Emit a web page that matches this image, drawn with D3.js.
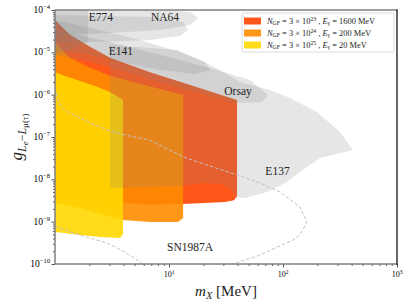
<!DOCTYPE html>
<html>
<head>
<meta charset="utf-8">
<script src="https://cdn.jsdelivr.net/npm/d3@7/dist/d3.min.js"></script>
<style>
  body { margin: 0; background: #fff; }
  svg { display: block; }
</style>
</head>
<body>
<div id="chart"></div>
<script>
// all regions are [mass in MeV, coupling g]
const xTicks = [10, 100, 1000];
const yTicks = [1e-10, 1e-9, 1e-8, 1e-7, 1e-6, 1e-5, 1e-4];

// sensitivity regions, three beam settings
const redRegion = [[1, 5.8e-5], [1.35, 2.6e-5], [2.03, 1.35e-5], [3.04, 7.4e-6], [6.81, 3.4e-6], [13.3, 1.9e-6],
  [39.5, 7.5e-7], [39.5, 4.0e-9], [37.2, 3.2e-9], [31, 2.9e-9], [13.3, 2.6e-9], [6.81, 2.5e-9],
  [3.72, 2.8e-9], [2.03, 3.2e-9], [1, 3.6e-9]];
const orangeRegion = [[1, 1.75e-5], [1.35, 7.4e-6], [2.03, 4.3e-6], [3.04, 2.8e-6], [5.56, 1.8e-6], [13.3, 9.8e-7],
  [13.3, 1.22e-9], [12.0, 9.8e-10], [6.81, 9.8e-10], [3.95, 1.09e-9], [2.48, 1.52e-9], [1.66, 2.1e-9], [1, 2.76e-9]];
const yellowRegion = [[1, 3.43e-6], [1.22, 2.76e-6], [1.66, 2.1e-6], [2.24, 1.6e-6], [3.04, 1.16e-6], [3.95, 7.5e-7],
  [3.95, 5.1e-10], [3.72, 4.1e-10], [2.48, 4.34e-10], [1.66, 4.84e-10], [1, 5.7e-10]];

// existing bounds (grey)
const na64Outer = [[1, 1e-4], [8.34, 1e-4], [15.3, 8.97e-5], [18.0, 6.48e-5], [15.3, 4.43e-5], [8.34, 3.37e-5], [3.04, 2.86e-5], [1, 2.56e-5]];
const na64Inner = [[1, 7.62e-5], [6.81, 6.84e-5], [13.3, 5.21e-5], [14.7, 3.37e-5], [12.5, 2.43e-5], [6.81, 1.95e-5], [2.48, 1.75e-5], [1, 1.75e-5]];
const e774 = [[1, 1e-4], [1.95, 1e-4], [1.95, 1.75e-5], [1.35, 1.13e-5], [1, 8.65e-6]];
const e141 = [[1, 5.81e-5], [2.48, 3.37e-5], [5.56, 1.95e-5], [12.5, 1.02e-5], [20.7, 5.91e-6], [22.9, 3.83e-6],
  [16.9, 3.08e-6], [8.34, 3.83e-6], [3.72, 5.91e-6], [2.03, 8.65e-6], [1, 1.13e-5]];
const orsay = [[1, 3.37e-5], [3.04, 1.75e-5], [8.34, 8.65e-6], [22.9, 4.27e-6], [51.4, 2.22e-6], [73.8, 9.8e-7],
  [65.4, 6.71e-7], [37.9, 6.35e-7], [18.7, 1.09e-6], [8.34, 1.99e-6], [3.72, 3.83e-6], [2.03, 5.91e-6], [1, 8.65e-6]];
const e137 = [[3.04, 1.49e-5], [11.75, 1.13e-5], [18.7, 6.59e-6], [28.0, 3.83e-6], [42.0, 1.99e-6], [76.9, 1.29e-6],
  [115, 8.34e-7], [199, 3.89e-7], [316, 1.31e-7], [411, 4.93e-8], [316, 4.19e-8], [211, 3.19e-8], [141, 1.49e-8],
  [108, 8.64e-9], [72.4, 5.01e-9], [46.4, 3.62e-9], [37.9, 3.8e-9], [35.7, 5.6e-9], [29.8, 7.75e-9], [18.7, 8.2e-9],
  [13.3, 6.95e-9], [6.81, 6.6e-9], [3.04, 6.23e-9]];

// SN1987A contour, two dashed branches
const snUpper = [[0.9, 2.5e-6], [1, 1.44e-6], [1.06, 7.5e-7], [1.15, 4.84e-7], [1.30, 3.89e-7], [2.03, 2.14e-7],
  [3.04, 1.39e-7], [4.55, 1.05e-7], [6.81, 8.5e-8], [13.3, 3.37e-8], [39.5, 1.26e-8], [62.9, 8.2e-9], [94.1, 5.0e-9],
  [141, 2.22e-9], [162, 9.8e-10], [141, 4.84e-10], [122, 3.68e-10], [62.9, 1.63e-10], [36.4, 1e-10], [22.9, 6.5e-11]];
const snLower = [[0.9, 9e-10], [1, 7.9e-10], [1.35, 5.7e-10], [2.03, 4.1e-10], [2.86, 3.13e-10], [4.11, 1.92e-10],
  [5.91, 1e-10], [8.3, 6.5e-11]];

const regionLabels = ["E774", "NA64", "E141", "Orsay", "E137", "SN1987A"];
const labelPos = [[2.53, 6.84e-5], [9.22, 6.7e-5], [3.79, 1.07e-5], [40.3, 1.22e-6], [89.5, 1.57e-8], [15.3, 2.59e-10]];

const legendExponents = ["23", "24", "25"];
const legendEnergies = ["1600", "200", "20"];
const legendColors = ["orangered", "darkorange", "gold"];

const width = 411, height = 307;
const margin = { top: 10, right: 14, bottom: 43, left: 55 };
const serif = "'Liberation Serif', 'DejaVu Serif', serif";

const x = d3.scaleLog().domain([1, 1000]).range([margin.left, width - margin.right]);
const y = d3.scaleLog().domain([1e-10, 1e-4]).range([height - margin.bottom, margin.top]);

const svg = d3.select("#chart").append("svg")
  .attr("width", width).attr("height", height)
  .attr("viewBox", [0, 0, width, height]);

svg.append("clipPath").attr("id", "plot-clip")
  .append("rect")
  .attr("x", margin.left).attr("y", margin.top)
  .attr("width", width - margin.left - margin.right)
  .attr("height", height - margin.top - margin.bottom);

const line = d3.line().x((d) => x(d[0])).y((d) => y(d[1]));
const plot = svg.append("g").attr("clip-path", "url(#plot-clip)");

// coloured regions first, grey bounds go on top with low alpha
[[redRegion, "orangered"], [orangeRegion, "darkorange"], [yellowRegion, "gold"]].forEach(([pts, c]) => {
  plot.append("path").attr("d", line(pts) + "Z").attr("fill", c).attr("fill-opacity", 0.9);
});

[na64Outer, na64Inner, e774, e141, orsay, e137].forEach((pts) => {
  plot.append("path").attr("d", line(pts) + "Z").attr("fill", "gray").attr("fill-opacity", 0.2);
});

[snUpper, snLower].forEach((pts) => {
  plot.append("path").attr("d", line(pts))
    .attr("fill", "none").attr("stroke", "#c2c2c2")
    .attr("stroke-width", 1).attr("stroke-dasharray", "3.5,2");
});

plot.selectAll(".rlabel").data(regionLabels).join("text")
  .attr("class", "rlabel")
  .attr("x", (d, i) => x(labelPos[i][0]))
  .attr("y", (d, i) => y(labelPos[i][1]))
  .attr("text-anchor", "middle").attr("dominant-baseline", "central")
  .attr("font-family", serif).attr("font-size", 11.5).attr("fill", "#222")
  .text((d) => d);

// minor ticks for log axes
function minorTicks(lo, hi) {
  const out = [];
  for (let e = lo; e < hi; e++) for (let k = 2; k <= 9; k++) out.push(k * Math.pow(10, e));
  return out;
}

const gx = svg.append("g").attr("transform", `translate(0,${height - margin.bottom})`);
gx.call(d3.axisBottom(x).tickValues(minorTicks(0, 3)).tickSize(2).tickFormat(""))
  .call((g) => g.select(".domain").remove());
gx.append("g").call(d3.axisBottom(x).tickValues(xTicks).tickSize(3.5).tickFormat(""))
  .call((g) => g.select(".domain").remove());
gx.selectAll("line").attr("stroke", "#555");

const gy = svg.append("g").attr("transform", `translate(${margin.left},0)`);
gy.call(d3.axisLeft(y).tickValues(minorTicks(-10, -4)).tickSize(2).tickFormat(""))
  .call((g) => g.select(".domain").remove());
gy.append("g").call(d3.axisLeft(y).tickValues(yTicks).tickSize(3.5).tickFormat(""))
  .call((g) => g.select(".domain").remove());
gy.selectAll("line").attr("stroke", "#555");

// tick labels as 10^n
svg.selectAll(".xtl").data(xTicks).join("text")
  .attr("class", "xtl")
  .attr("x", (d) => x(d)).attr("y", height - margin.bottom + 13)
  .attr("text-anchor", "middle").attr("font-family", serif).attr("font-size", 8)
  .call((t) => {
    t.append("tspan").text("10");
    t.append("tspan").attr("dy", -3.5).attr("font-size", 5.5).text((d) => Math.round(Math.log10(d)));
  });

svg.selectAll(".ytl").data(yTicks).join("text")
  .attr("class", "ytl")
  .attr("x", margin.left - 5).attr("y", (d) => y(d) + 3)
  .attr("text-anchor", "end").attr("font-family", serif).attr("font-size", 9.5)
  .call((t) => {
    t.append("tspan").text("10");
    t.append("tspan").attr("dy", -4).attr("font-size", 6.5)
      .text((d) => "\u2212" + Math.abs(Math.round(Math.log10(d))));
  });

// frame
const fx0 = margin.left, fx1 = width - margin.right, fy0 = margin.top, fy1 = height - margin.bottom;
svg.append("path").attr("d", `M${fx1},${fy0}H${fx0}V${fy1}H${fx1}`)
  .attr("fill", "none").attr("stroke", "#808080").attr("stroke-width", 1.5);
svg.append("line").attr("x1", fx1).attr("x2", fx1).attr("y1", fy0 - 0.75).attr("y2", fy1 + 0.75)
  .attr("stroke", "#000").attr("stroke-width", 1.2);

// axis titles
const xl = svg.append("text")
  .attr("x", (fx0 + fx1) / 2).attr("y", 296)
  .attr("text-anchor", "middle").attr("font-family", serif).attr("font-size", 15).attr("fill", "#222");
xl.append("tspan").attr("font-style", "italic").text("m");
xl.append("tspan").attr("font-style", "italic").attr("font-size", 10.5).attr("dy", 3).text("X");
xl.append("tspan").attr("dy", -3).text(" [MeV]");

const yl = svg.append("text")
  .attr("transform", `translate(22,${(fy0 + fy1) / 2}) rotate(-90)`)
  .attr("text-anchor", "middle").attr("font-family", serif).attr("font-size", 17).attr("fill", "#222");
yl.append("tspan").attr("font-style", "italic").text("g");
yl.append("tspan").attr("font-style", "italic").attr("font-size", 12).attr("dy", 4).text("L");
yl.append("tspan").attr("font-style", "italic").attr("font-size", 9).attr("dy", 2).text("e");
yl.append("tspan").attr("font-size", 12).attr("dy", -2).text("\u2212");
yl.append("tspan").attr("font-style", "italic").attr("font-size", 12).text("L");
yl.append("tspan").attr("font-size", 9).attr("dy", 2).text("\u03bc(\u03c4)");

// legend
const lg = svg.append("g");
lg.append("rect").attr("x", 242).attr("y", 13).attr("width", 152).attr("height", 39).attr("rx", 2)
  .attr("fill", "#fff").attr("fill-opacity", 0.85).attr("stroke", "#d0d0d0").attr("stroke-width", 0.8);
legendColors.forEach((c, i) => {
  const cy = 21 + i * 12;
  lg.append("rect").attr("x", 244).attr("y", cy - 3.5).attr("width", 17).attr("height", 7)
    .attr("fill", c).attr("fill-opacity", 0.9);
  const t = lg.append("text").attr("x", 267).attr("y", cy + 2.5)
    .attr("font-family", serif).attr("font-size", 8.4).attr("fill", "#222");
  t.append("tspan").attr("font-style", "italic").text("N");
  t.append("tspan").attr("font-size", 5.8).attr("dy", 1.5).text("GF");
  t.append("tspan").attr("dy", -1.5).text(" = 3 \u00d7 10");
  t.append("tspan").attr("font-size", 5.8).attr("dy", -3).text(legendExponents[i]);
  t.append("tspan").attr("dy", 3).text(" ,  ");
  t.append("tspan").attr("font-style", "italic").text("E");
  t.append("tspan").attr("font-size", 5.8).attr("dy", 1.5).text("\u03b3");
  t.append("tspan").attr("dy", -1.5).text(" = " + legendEnergies[i] + " MeV");
});
</script>
</body>
</html>
